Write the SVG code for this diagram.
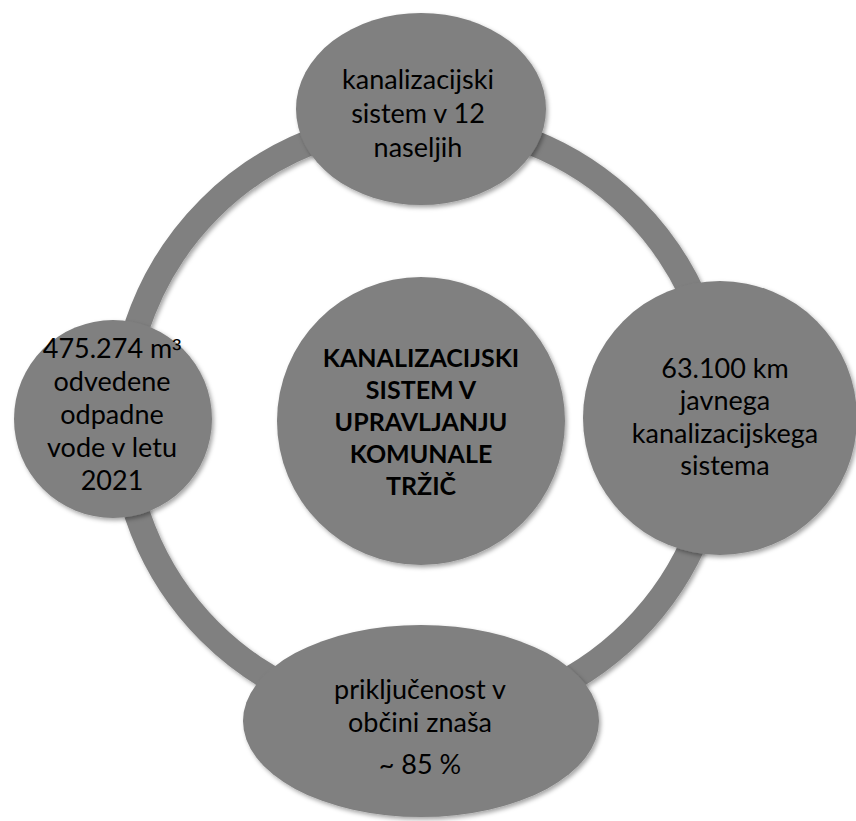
<svg xmlns="http://www.w3.org/2000/svg" width="856" height="821" viewBox="0 0 856 821">
  <defs>
    <filter id="sh" x="-10%" y="-10%" width="125%" height="125%">
      <feDropShadow dx="2" dy="2.5" stdDeviation="2" flood-color="#000" flood-opacity="0.35"/>
    </filter>
  </defs>
  <style>
    .node { fill: #808080; filter: url(#sh); }
    .ring { fill: none; stroke: #808080; stroke-width: 26; filter: url(#sh); }
    text { font-family: Lato, "Liberation Sans", sans-serif; font-size: 27px; fill: #000; text-anchor: middle; }
    .b { font-weight: bold; font-size: 25px; }
    .sup { font-family: "Liberation Sans", sans-serif; font-size: 27px; }
  </style>
  <rect width="856" height="821" fill="#fff"/>
  <g id="connectors">
    <circle class="ring" cx="421" cy="420" r="299"/>
  </g>
  <g id="center">
    <circle class="node" cx="421" cy="421" r="144"/>
    <text class="b" x="421" y="367">KANALIZACIJSKI</text>
    <text class="b" x="421" y="399">SISTEM V</text>
    <text class="b" x="421" y="431">UPRAVLJANJU</text>
    <text class="b" x="421" y="463">KOMUNALE</text>
    <text class="b" x="421" y="495">TRŽIČ</text>
  </g>
  <g id="top">
    <ellipse class="node" cx="421" cy="109" rx="125" ry="96"/>
    <text x="418" y="89">kanalizacijski</text>
    <text x="418" y="123">sistem v 12</text>
    <text x="418" y="157">naseljih</text>
  </g>
  <g id="right">
    <circle class="node" cx="720" cy="418" r="137"/>
    <text x="725" y="378">63.100 km</text>
    <text x="725" y="410">javnega</text>
    <text x="725" y="443">kanalizacijskega</text>
    <text x="725" y="475">sistema</text>
  </g>
  <g id="bottom">
    <ellipse class="node" cx="421" cy="721" rx="178" ry="96"/>
    <text x="420" y="699">priključenost v</text>
    <text x="420" y="732">občini znaša</text>
    <text x="420" y="774">~ 85 %</text>
  </g>
  <g id="left">
    <circle class="node" cx="113" cy="419" r="99"/>
    <text x="112" y="358">475.274 m<tspan class="sup">³</tspan></text>
    <text x="112" y="391">odvedene</text>
    <text x="112" y="424">odpadne</text>
    <text x="112" y="457">vode v letu</text>
    <text x="112" y="490">2021</text>
  </g>
</svg>
